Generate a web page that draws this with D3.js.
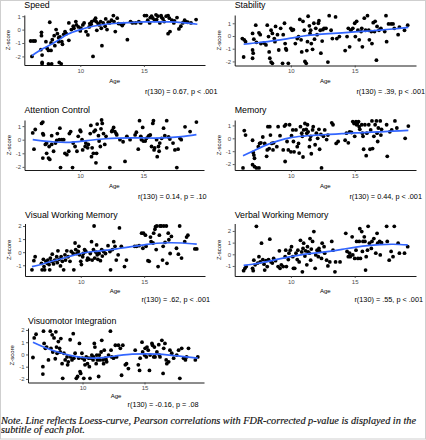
<!DOCTYPE html>
<html><head><meta charset="utf-8">
<script src="https://cdn.jsdelivr.net/npm/d3@7"></script>
<style>body{margin:0;background:#fff} svg{display:block}</style>
</head><body><svg id="c" width="426" height="440"></svg>
<script>
// ---------------- data ----------------
const titles = ["Speed","Stability","Attention Control","Memory","Visual Working Memory","Verbal Working Memory","Visuomotor Integration"];
const captions = ["r(130) = 0.67, p < .001","r(130) = .39, p < .001","r(130) = 0.14, p = .10","r(130) = 0.44, p < .001","r(130) = .62, p < .001","r(130) = .55, p < .001","r(130) = -0.16, p = .08"];
const xTicks = [10, 15];
const yTicksA = [-2, -1, 0, 1];
const yTicksB = [-1, 0, 1, 2];
const yTicksC = [-2, -1, 0, 1, 2];
const noteLines = ["Note. Line reflects Loess-curve, Pearson correlations with FDR-corrected p-value is displayed in the","subtitle of each plot."];

const speedPts = [[6.1,-0.85],[6.3,-0.85],[6.45,-0.85],[6.2,-2.0],[6.95,-0.2],[6.95,-0.45],[6.9,-1.5],[7.0,-1.9],[7.0,-2.45],[7.0,-2.55],[7.3,-0.9],[7.4,-1.4],[7.5,-1.55],[7.5,-2.55],[7.75,-2.55],[7.6,0.55],[7.7,-1.0],[7.8,-0.75],[7.95,-0.45],[7.7,-1.55],[8.0,-1.2],[8.1,0.0],[8.2,-0.3],[8.3,-0.6],[8.3,-0.9],[8.35,-2.45],[8.5,-2.55],[8.4,-0.55],[8.55,-0.9],[8.6,-1.1],[8.7,-0.35],[8.8,-0.15],[8.9,-0.3],[9.1,0.5],[9.1,-0.8],[9.3,0.0],[9.45,0.25],[9.5,0.1],[9.65,0.6],[9.7,0.35],[9.85,0.2],[10.0,-0.1],[10.05,0.1],[10.2,0.35],[10.3,0.5],[10.45,-0.15],[10.6,-0.4],[10.7,0.2],[10.75,0.45],[10.85,0.4],[11.0,-2.0],[11.1,0.7],[11.2,0.85],[11.25,0.6],[11.3,-0.05],[11.5,0.35],[11.6,0.6],[11.65,0.1],[11.7,-1.2],[11.8,0.5],[11.95,0.25],[12.0,0.8],[12.1,0.0],[12.3,0.5],[12.45,0.7],[12.6,1.05],[12.65,0.6],[12.75,-0.15],[12.9,0.85],[13.0,0.45],[13.2,0.4],[13.3,0.3],[13.4,0.45],[13.7,-0.75],[13.95,0.6],[14.1,0.5],[14.35,0.5],[14.6,0.6],[14.75,0.5],[15.05,1.05],[15.2,1.05],[15.3,0.7],[15.45,0.5],[15.6,1.0],[15.7,0.85],[15.85,0.7],[15.95,1.1],[16.1,1.0],[16.25,0.5],[16.35,1.05],[16.5,0.8],[16.6,0.6],[16.75,1.0],[16.9,1.05],[16.9,-0.3],[17.05,-0.15],[17.2,0.7],[17.35,0.5],[17.6,0.9],[17.75,0.05],[17.9,0.25],[18.05,0.5],[18.2,0.7],[18.3,0.6],[18.45,0.55],[18.7,0.5],[19.1,0.75],[15.5,0.9],[16.0,0.75],[16.4,0.9],[17.0,0.85],[17.4,0.65],[12.2,0.55],[11.4,0.45],[10.9,0.6]];
const speedFit = [[6.2,-1.95],[7,-1.45],[8,-0.95],[9,-0.35],[10,0.0],[11,0.25],[12,0.4],[13,0.48],[14,0.53],[15,0.57],[16,0.58],[17,0.57],[18,0.52],[19.2,0.4]];

const stabilityPts = [[6.2,-0.2],[6.35,-0.3],[6.3,-1.65],[6.45,-0.45],[7.0,0.2],[7.0,-1.1],[7.05,-1.35],[7.0,-1.75],[7.1,-0.25],[7.25,0.85],[7.3,-0.5],[7.5,0.25],[7.6,0.1],[7.65,-0.6],[7.9,-0.55],[8.05,-0.7],[8.15,0.85],[8.25,-0.05],[8.3,-1.25],[8.35,-1.75],[8.45,-2.05],[8.55,-2.15],[8.45,0.45],[8.55,0.2],[8.7,-0.2],[8.75,-0.45],[8.8,0.75],[8.95,0.1],[9.05,-1.1],[9.2,0.6],[9.35,-2.15],[9.4,0.1],[9.5,1.0],[9.55,-0.6],[9.6,-1.0],[9.65,-1.1],[9.8,-2.15],[10.0,0.6],[10.1,0.45],[10.2,0.5],[10.35,-0.6],[10.5,-0.2],[10.6,-0.05],[10.7,1.3],[10.8,-0.3],[10.85,-1.25],[10.95,1.15],[11.05,0.45],[11.1,-2.0],[11.2,-2.15],[11.25,-1.15],[11.3,-0.45],[11.35,1.55],[11.45,0.8],[11.5,0.2],[11.55,0.45],[11.6,-0.6],[11.7,-1.05],[11.8,1.0],[11.85,-0.25],[11.95,0.6],[12.05,0.1],[12.15,1.0],[12.2,1.2],[12.3,0.45],[12.35,-1.35],[12.45,-0.4],[12.5,0.5],[12.6,0.6],[12.75,0.6],[12.9,-2.05],[13.0,1.6],[13.15,0.45],[13.25,-0.2],[13.5,1.5],[13.6,-0.2],[13.8,-0.05],[14.25,-1.15],[14.4,-0.05],[14.5,0.6],[14.6,-0.85],[14.7,0.45],[14.85,0.6],[15.0,1.0],[15.05,-0.05],[15.15,1.15],[15.25,0.45],[15.35,-0.3],[15.5,0.35],[15.55,0.6],[15.6,-0.85],[15.75,1.4],[15.85,0.45],[16.0,1.6],[16.1,0.45],[16.15,-0.3],[16.3,0.35],[16.35,-0.6],[16.45,1.05],[16.55,0.35],[16.6,1.15],[16.7,-1.9],[16.75,0.75],[16.9,0.45],[17.05,0.6],[17.35,0.35],[17.45,1.6],[17.5,-0.45],[17.65,0.95],[17.85,0.95],[18.0,0.95],[18.1,0.6],[18.4,0.1],[18.5,0.7],[18.9,0.45],[19.15,0.85]];
const stabilityFit = [[6.3,-0.65],[7,-0.57],[8,-0.47],[9,-0.33],[10,-0.17],[11,0.0],[12,0.1],[13,0.18],[14,0.25],[15,0.32],[16,0.39],[17,0.46],[18,0.55],[19.2,0.68]];

const attentionPts = [[6.25,0.5],[6.45,0.75],[6.35,-0.7],[6.95,1.2],[7.05,1.3],[7.05,0.45],[7.1,0.35],[7.05,-1.35],[7.25,-0.35],[7.35,-0.25],[7.35,-1.0],[7.5,-1.35],[7.6,-1.45],[7.55,-0.5],[7.75,0.3],[7.75,-0.35],[7.9,-0.85],[8.05,-0.25],[8.15,-0.05],[8.2,0.45],[8.4,0.85],[8.35,0.0],[8.45,-2.05],[8.55,0.0],[8.7,0.0],[8.8,-1.0],[8.95,-1.1],[9.1,-0.85],[9.15,0.45],[9.25,0.6],[9.4,-2.05],[9.45,-0.25],[9.6,-0.5],[9.75,-0.85],[9.85,0.25],[10.0,0.7],[10.05,0.6],[10.15,0.0],[10.2,-0.75],[10.4,-0.5],[10.45,-0.25],[10.6,-0.6],[10.65,-0.35],[10.8,0.45],[10.85,1.05],[10.9,-1.25],[10.95,-0.6],[11.05,-1.0],[11.1,0.6],[11.2,0.7],[11.25,-1.7],[11.3,-1.0],[11.35,1.15],[11.45,0.3],[11.5,-0.1],[11.6,-0.5],[11.65,0.8],[11.7,1.45],[11.75,1.2],[11.85,0.45],[11.95,-0.35],[12.05,0.25],[12.35,-2.05],[12.5,0.6],[12.55,0.7],[12.65,0.9],[12.75,0.6],[12.85,0.45],[12.9,0.35],[13.15,0.0],[13.4,-0.15],[13.55,-1.6],[13.7,0.25],[13.95,0.0],[14.35,0.35],[14.45,0.55],[14.6,-0.7],[14.7,1.4],[14.8,0.25],[14.85,0.0],[14.95,0.9],[15.0,-0.1],[15.15,-0.1],[15.25,0.1],[15.4,0.25],[15.45,0.3],[15.55,0.35],[15.65,-0.5],[15.75,1.2],[15.8,1.4],[15.85,-0.75],[15.9,-0.6],[16.05,0.0],[16.1,-1.25],[16.2,-0.5],[16.25,-0.85],[16.3,-0.25],[16.45,0.1],[16.6,0.85],[16.7,0.3],[16.85,1.4],[16.85,-0.6],[17.0,0.2],[17.1,0.05],[17.35,-0.25],[17.5,-0.75],[17.65,-2.05],[17.75,-0.7],[17.9,0.1],[18.0,0.0],[18.3,0.95],[18.7,0.6],[19.2,1.3]];
const attentionFit = [[6.25,0.0],[7,-0.08],[8,-0.17],[9,-0.2],[10,-0.13],[11,-0.02],[12,0.07],[13,0.12],[14,0.14],[15,0.13],[16,0.12],[17,0.15],[18,0.22],[19.2,0.37]];

const memoryPts = [[6.25,-2.3],[6.35,0.6],[6.45,0.25],[7.0,-0.15],[7.05,-1.1],[7.1,-1.3],[7.15,-1.55],[7.0,-2.05],[7.15,-2.2],[7.3,-2.3],[7.5,-2.3],[7.45,-0.65],[7.55,-0.4],[7.65,-0.35],[7.8,0.1],[7.95,-0.4],[8.1,-1.4],[8.15,-0.9],[8.2,0.9],[8.35,0.9],[8.4,0.25],[8.3,-0.8],[8.5,-0.4],[8.6,-0.9],[8.65,-0.35],[8.9,-0.65],[9.0,0.9],[9.15,0.2],[9.4,-0.9],[9.5,0.95],[9.55,-1.8],[9.6,1.05],[9.7,-0.25],[9.8,-0.9],[9.9,1.05],[10.0,-1.05],[10.05,0.2],[10.15,0.65],[10.2,-0.25],[10.25,-1.05],[10.4,0.65],[10.5,-0.65],[10.6,-0.4],[10.65,-1.15],[10.75,0.9],[10.85,0.4],[10.9,0.15],[10.95,-1.45],[11.0,0.65],[11.1,1.15],[11.2,0.7],[11.25,0.4],[11.3,1.05],[11.35,0.5],[11.45,-0.65],[11.5,-0.1],[11.55,0.15],[11.6,-1.2],[11.7,0.65],[11.75,0.9],[11.9,-0.5],[12.0,0.4],[12.1,0.0],[12.2,0.7],[12.25,-0.85],[12.35,0.3],[12.4,-2.3],[12.55,0.15],[12.65,0.65],[12.8,-0.1],[12.9,0.25],[13.2,1.2],[13.3,1.05],[13.55,-0.4],[13.7,-0.25],[14.25,-0.15],[14.35,0.4],[14.5,-0.35],[14.6,0.5],[14.75,0.45],[14.85,1.3],[14.95,1.15],[15.0,0.15],[15.1,1.3],[15.15,1.05],[15.2,1.15],[15.3,1.3],[15.35,0.9],[15.4,0.7],[15.55,1.05],[15.6,0.4],[15.65,0.15],[15.7,-0.85],[15.8,1.05],[15.9,-1.35],[15.95,0.4],[16.1,1.05],[16.2,-0.85],[16.25,0.65],[16.35,1.35],[16.4,-0.8],[16.5,0.15],[16.6,1.05],[16.7,1.35],[16.75,0.4],[16.8,-0.25],[16.85,0.8],[17.0,1.35],[17.05,0.25],[17.1,0.7],[17.5,1.05],[17.55,-1.4],[17.75,0.5],[17.9,0.65],[18.15,1.35],[18.3,0.8],[18.95,0.0],[19.2,0.95]];
const memoryFit = [[6.25,-1.35],[7,-1.0],[8,-0.55],[9,-0.2],[10,0.05],[11,0.17],[12,0.24],[13,0.3],[14,0.36],[15,0.42],[16,0.46],[17,0.5],[18,0.55],[19.2,0.62]];

const visualWMPts = [[6.15,-1.35],[6.3,-0.65],[6.4,-0.35],[6.9,-0.85],[6.95,-1.35],[7.05,-0.55],[7.1,-1.1],[7.15,-1.35],[7.25,-0.7],[7.35,-0.85],[7.4,-0.6],[7.5,-0.95],[7.55,-1.35],[7.6,-0.45],[7.7,-0.7],[7.75,-0.15],[7.85,-0.9],[7.95,-0.6],[8.1,-0.35],[8.15,-0.8],[8.2,0.1],[8.3,-0.55],[8.4,-1.05],[8.45,-0.35],[8.55,-0.7],[8.65,-1.35],[8.75,-0.2],[8.8,-0.6],[8.9,0.1],[9.0,-0.35],[9.15,-0.7],[9.25,0.05],[9.4,-0.1],[9.45,-1.35],[9.55,0.7],[9.6,0.2],[9.7,-0.1],[9.8,0.05],[9.85,0.45],[9.9,-0.2],[10.0,-0.7],[10.05,-0.95],[10.15,-0.35],[10.2,-0.1],[10.3,0.2],[10.4,0.05],[10.5,-0.6],[10.55,-0.45],[10.65,-0.55],[10.75,-0.1],[10.85,0.8],[10.9,-0.6],[11.0,0.2],[11.05,2.0],[11.1,-0.45],[11.2,0.0],[11.25,0.55],[11.3,-0.2],[11.35,-0.55],[11.45,-0.1],[11.55,-0.65],[11.65,0.2],[11.7,-0.3],[11.8,0.05],[11.95,-0.1],[12.15,0.5],[12.3,0.05],[12.35,-1.35],[12.5,0.2],[12.6,0.8],[12.7,0.45],[12.8,-0.6],[12.95,-0.2],[13.05,1.85],[13.2,0.45],[13.45,-1.1],[13.6,-0.6],[14.25,0.45],[14.4,0.45],[14.6,0.5],[14.8,1.45],[14.9,0.3],[14.95,1.45],[15.1,1.3],[15.15,0.45],[15.3,-0.65],[15.4,-0.7],[15.5,1.15],[15.55,0.8],[15.7,0.7],[15.75,1.45],[15.85,1.75],[15.9,1.95],[15.95,0.2],[16.0,2.0],[16.1,-1.1],[16.2,1.3],[16.25,2.0],[16.35,2.0],[16.45,-0.6],[16.5,0.45],[16.55,2.0],[16.65,0.75],[16.75,2.0],[16.8,-0.85],[16.9,1.45],[16.95,0.95],[17.05,-0.1],[17.15,1.2],[17.55,0.3],[17.7,-0.15],[17.8,2.0],[17.95,-0.45],[18.2,0.8],[18.35,1.15],[18.45,1.3],[19.0,0.25],[19.15,0.25]];
const visualWMFit = [[6.15,-1.1],[7,-0.9],[8,-0.62],[9,-0.35],[10,-0.1],[11,0.05],[12,0.15],[13,0.28],[14,0.42],[15,0.56],[16,0.68],[17,0.72],[18,0.7],[19.15,0.62]];

const verbalWMPts = [[6.3,-1.4],[6.4,-1.2],[6.5,-1.05],[7.0,-1.2],[7.05,-1.4],[7.1,-0.5],[7.2,-0.9],[7.3,2.4],[7.4,-0.75],[7.5,-0.2],[7.6,-0.65],[7.7,0.95],[7.8,-0.45],[7.9,-0.85],[7.95,-1.35],[8.05,-0.55],[8.15,-1.05],[8.25,-0.45],[8.35,1.3],[8.45,-0.65],[8.55,-0.75],[8.65,-0.35],[8.8,-0.55],[9.0,-1.05],[9.1,0.3],[9.15,-1.2],[9.25,-0.9],[9.4,-1.05],[9.55,-0.2],[9.6,0.35],[9.65,-1.05],[9.8,-0.45],[9.85,0.1],[9.95,0.35],[10.05,0.65],[10.15,-0.2],[10.2,-1.2],[10.3,-1.2],[10.4,0.1],[10.5,-0.45],[10.55,0.35],[10.65,-0.65],[10.75,1.2],[10.85,0.2],[10.9,-1.5],[10.95,0.5],[11.0,0.95],[11.1,-0.15],[11.15,0.3],[11.25,-0.9],[11.3,0.65],[11.35,0.2],[11.45,0.1],[11.5,1.35],[11.55,-0.5],[11.6,0.45],[11.7,1.1],[11.8,1.95],[11.9,-1.2],[11.95,-0.05],[12.05,0.35],[12.15,-0.2],[12.2,0.5],[12.25,0.25],[12.4,-0.35],[12.45,0.95],[12.6,0.65],[12.65,0.1],[12.8,-0.5],[12.9,-1.0],[13.05,-0.65],[13.2,1.1],[13.3,0.35],[13.45,-1.5],[13.5,-0.65],[13.85,-0.65],[14.3,1.8],[14.4,0.25],[14.5,-0.2],[14.6,0.1],[14.65,-0.2],[14.8,1.5],[14.85,-0.05],[15.0,-0.35],[15.1,0.35],[15.15,1.1],[15.25,-0.35],[15.35,1.1],[15.4,2.2],[15.45,-0.35],[15.55,1.95],[15.6,0.25],[15.65,1.1],[15.75,1.5],[15.8,1.1],[15.85,-1.35],[15.9,-0.2],[16.0,0.35],[16.05,2.4],[16.15,0.95],[16.3,0.5],[16.35,1.1],[16.5,1.35],[16.65,0.1],[16.75,1.8],[16.8,0.95],[16.95,1.1],[17.0,-0.05],[17.1,1.0],[17.5,2.4],[17.55,1.1],[17.7,-0.5],[17.85,0.25],[18.0,-0.2],[18.1,2.4],[18.4,0.95],[18.5,0.1],[18.9,0.1],[19.15,0.65]];
const verbalWMFit = [[6.3,-0.95],[7,-0.85],[8,-0.65],[9,-0.42],[10,-0.2],[11,0.0],[12,0.12],[13,0.25],[14,0.42],[15,0.6],[16,0.75],[17,0.83],[18,0.86],[19.15,0.8]];

const visuomotorPts = [[6.0,-0.25],[6.1,1.35],[6.25,1.65],[6.8,-1.0],[6.8,-1.6],[6.85,1.9],[6.9,0.9],[7.0,0.5],[7.1,0.6],[7.25,-0.45],[7.4,1.9],[7.45,0.5],[7.55,1.6],[7.6,0.2],[7.7,1.35],[7.8,-0.35],[7.85,1.85],[7.9,0.6],[7.95,0.1],[8.05,1.05],[8.15,0.5],[8.2,0.2],[8.25,1.3],[8.35,-0.75],[8.4,-1.95],[8.5,0.1],[8.6,-0.45],[8.75,-0.2],[8.8,-0.85],[8.85,-0.6],[9.0,1.2],[9.05,-0.2],[9.15,-0.45],[9.25,1.7],[9.3,-0.3],[9.4,0.1],[9.5,-1.95],[9.6,-1.8],[9.7,-0.3],[9.75,0.9],[9.8,-1.4],[9.85,-1.55],[9.95,0.1],[10.0,-0.3],[10.1,-1.95],[10.15,-0.45],[10.2,-0.85],[10.3,-0.2],[10.4,-0.75],[10.5,-0.3],[10.55,-1.0],[10.6,-1.95],[10.7,-0.3],[10.75,-0.05],[10.85,-0.45],[10.9,-0.2],[10.95,0.9],[11.0,0.6],[11.1,-0.75],[11.15,-0.05],[11.2,-0.45],[11.3,-1.8],[11.35,-0.05],[11.4,-0.45],[11.5,0.2],[11.55,1.15],[11.65,-0.45],[11.7,-0.75],[11.75,0.35],[11.85,-0.3],[11.9,-0.45],[11.95,-0.6],[12.1,-0.05],[12.25,1.9],[12.3,0.35],[12.35,-0.2],[12.5,-0.3],[12.65,0.75],[12.75,-0.2],[12.9,0.75],[13.05,0.5],[13.15,-1.7],[13.25,0.75],[13.45,-0.85],[13.55,-0.75],[13.7,-1.15],[14.25,0.35],[14.5,-0.85],[14.6,-1.3],[14.65,-0.3],[14.8,1.0],[14.85,0.2],[15.0,-0.05],[15.05,0.5],[15.15,-0.2],[15.2,0.6],[15.3,0.35],[15.4,-1.3],[15.45,-0.05],[15.6,0.9],[15.65,0.75],[15.75,-0.2],[15.8,0.6],[15.85,-0.2],[16.0,0.2],[16.15,0.8],[16.2,-0.05],[16.25,-0.2],[16.4,1.15],[16.5,-1.55],[16.55,0.5],[16.65,0.9],[16.75,-0.45],[16.8,-0.75],[16.95,-0.6],[17.05,0.35],[17.2,0.1],[17.35,-0.3],[17.6,-0.05],[17.75,0.35],[17.85,-1.95],[18.0,0.5],[18.15,-0.3],[18.3,-0.45],[18.4,-0.2],[18.55,0.5],[19.1,-0.45],[19.3,-0.2]];
const visuomotorFit = [[6.0,1.0],[7,0.55],[8,0.2],[9,-0.08],[10,-0.25],[11,-0.3],[12,-0.22],[13,-0.08],[14,0.02],[15,0.05],[16,0.02],[17,-0.05],[18,-0.15],[19.3,-0.3]];

const ageDomain = [5.6, 19.8];

// ---------------- layout (positions only) ----------------
const panels = [
  {pts: speedPts, fit: speedFit, yTicks: yTicksA, yDom: [-2.64, 1.09], x0: 24.3, x1: 205, y0: 15, y1: 65, titleY: 7.5, ageY: 82.5, capX: 217.5, capY: 93.5},
  {pts: stabilityPts, fit: stabilityFit, yTicks: yTicksA, yDom: [-2.32, 1.65], x0: 234.7, x1: 416, y0: 15, y1: 65.5, titleY: 7.5, ageY: 83, capX: 425, capY: 93.5},
  {pts: attentionPts, fit: attentionFit, yTicks: yTicksA, yDom: [-2.23, 1.45], x0: 24.5, x1: 204, y0: 120, y1: 170, titleY: 112.5, ageY: 187.5, capX: 206.5, capY: 198.5},
  {pts: memoryPts, fit: memoryFit, yTicks: yTicksA, yDom: [-2.46, 1.42], x0: 234.7, x1: 416, y0: 120, y1: 170, titleY: 112.5, ageY: 188, capX: 422, capY: 198.5},
  {pts: visualWMPts, fit: visualWMFit, yTicks: yTicksB, yDom: [-1.82, 2.19], x0: 25, x1: 205, y0: 223.5, y1: 276, titleY: 217.5, ageY: 293, capX: 210, capY: 301.5},
  {pts: verbalWMPts, fit: verbalWMFit, yTicks: yTicksB, yDom: [-1.86, 2.64], x0: 234.7, x1: 416, y0: 223.5, y1: 276, titleY: 217.5, ageY: 293, capX: 423, capY: 301.5},
  {pts: visuomotorPts, fit: visuomotorFit, yTicks: yTicksC, yDom: [-2.29, 2.16], x0: 28, x1: 204, y0: 328, y1: 382.5, titleY: 323.5, ageY: 397.5, capX: 198.5, capY: 407}
];

const svg = d3.select("#c");
svg.append("rect").attr("width", 426).attr("height", 440).attr("fill", "#fff");

const FONT = "Liberation Sans, Arial, sans-serif";

panels.forEach((p, i) => {
  const x = d3.scaleLinear().domain(ageDomain).range([p.x0, p.x1]);
  const y = d3.scaleLinear().domain(p.yDom).range([p.y1, p.y0]);
  const g = svg.append("g");

  // points
  g.append("g").selectAll("circle").data(p.pts).join("circle")
    .attr("cx", d => x(d[0])).attr("cy", d => y(d[1])).attr("r", 1.9).attr("fill", "#000");

  // loess line
  g.append("path").datum(p.fit)
    .attr("d", d3.line().x(d => x(d[0])).y(d => y(d[1])).curve(d3.curveCatmullRom))
    .attr("fill", "none").attr("stroke", "#3366FF").attr("stroke-width", 1.7);

  // axes
  const ax = g.append("g").attr("transform", `translate(0,${p.y1})`)
    .call(d3.axisBottom(x).tickValues(xTicks).tickFormat(d => String(d)).tickSize(2).tickSizeOuter(0).tickPadding(1.5));
  const ay = g.append("g").attr("transform", `translate(${p.x0},0)`)
    .call(d3.axisLeft(y).tickValues(p.yTicks).tickFormat(d => String(d)).tickSize(2).tickSizeOuter(0).tickPadding(1.5));
  [ax, ay].forEach(a => {
    a.select(".domain").attr("stroke", "#000").attr("stroke-width", 0.9);
    a.selectAll(".tick line").attr("stroke", "#333").attr("stroke-width", 0.8);
    a.selectAll(".tick text").attr("fill", "#4d4d4d").style("font-family", FONT).style("font-size", "6px");
  });

  // title
  g.append("text").attr("x", p.x0).attr("y", p.titleY).text(titles[i])
    .style("font-family", FONT).style("font-size", "8.8px").attr("fill", "#000");
  // axis titles
  g.append("text").attr("x", (p.x0 + p.x1) / 2).attr("y", p.ageY).attr("text-anchor", "middle").text("Age")
    .style("font-family", FONT).style("font-size", "6px");
  g.append("text").attr("transform", `translate(${p.x0 - 14},${(p.y0 + p.y1) / 2}) rotate(-90)`)
    .attr("text-anchor", "middle").text("Z-score")
    .style("font-family", FONT).style("font-size", "6px");
  // caption
  g.append("text").attr("x", p.capX).attr("y", p.capY).attr("text-anchor", "end").text(captions[i])
    .style("font-family", FONT).style("font-size", "7.3px");
});

// note
const noteFont = "Liberation Serif, 'DejaVu Serif', serif";
const NFS = 9.4;
const n1 = svg.append("text").attr("x", 1).attr("y", 423.5).text(noteLines[0])
  .style("font-family", noteFont).style("font-style", "italic").style("font-size", NFS + "px")
  .attr("fill", "#111").attr("stroke", "#111").attr("stroke-width", 0.15);
const w1 = n1.node().getComputedTextLength();
const k = 415 / w1;
n1.attr("textLength", 415).attr("lengthAdjust", "spacingAndGlyphs");
const n2 = svg.append("text").attr("x", 1).attr("y", 432.8).text(noteLines[1])
  .style("font-family", noteFont).style("font-style", "italic").style("font-size", NFS + "px")
  .attr("fill", "#111").attr("stroke", "#111").attr("stroke-width", 0.15);
const w2 = n2.node().getComputedTextLength();
n2.attr("textLength", w2 * k).attr("lengthAdjust", "spacingAndGlyphs");

// frame
svg.append("rect").attr("x", 0.5).attr("y", 0.5).attr("width", 425).attr("height", 438.5)
  .attr("fill", "none").attr("stroke", "#cfcfcf").attr("stroke-width", 1);
</script>
</body></html>
